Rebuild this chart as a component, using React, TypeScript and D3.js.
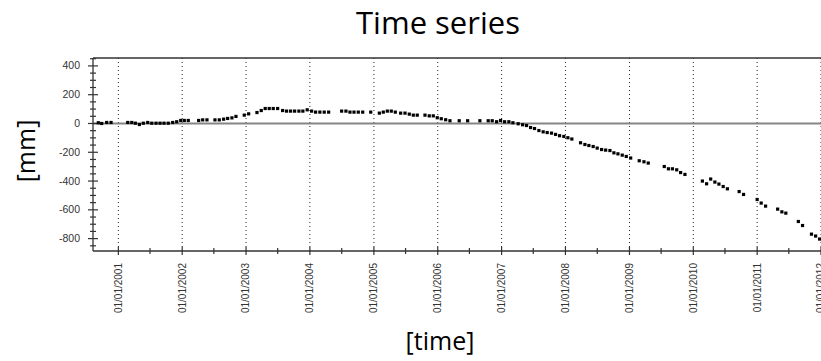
import React from "react";
import * as d3 from "d3";

const years = [
  2000.687, 2000.740, 2000.818, 2000.886,
  2001.147, 2001.210, 2001.266, 2001.329, 2001.391, 2001.460, 2001.523, 2001.590,
  2001.653, 2001.715, 2001.782, 2001.851, 2001.914, 2001.977, 2002.033, 2002.095,
  2002.258, 2002.321, 2002.388, 2002.513, 2002.581, 2002.649, 2002.712, 2002.779,
  2002.842, 2002.972, 2003.041, 2003.171, 2003.238, 2003.300, 2003.363, 2003.426,
  2003.495, 2003.573, 2003.635, 2003.698, 2003.761, 2003.828, 2003.890, 2003.958,
  2004.027, 2004.089, 2004.156, 2004.224, 2004.293,
  2004.496, 2004.563, 2004.626, 2004.689, 2004.756, 2004.825,
  2004.950, 2005.085, 2005.147, 2005.210, 2005.272, 2005.335, 2005.419, 2005.487,
  2005.554, 2005.617, 2005.679,
  2005.800, 2005.867, 2005.930, 2005.992, 2006.055, 2006.124, 2006.191,
  2006.336, 2006.468, 2006.660, 2006.790, 2006.853, 2006.922, 2006.984, 2007.047,
  2007.114, 2007.177, 2007.260, 2007.329, 2007.391, 2007.454, 2007.516, 2007.584,
  2007.651, 2007.714, 2007.782, 2007.845, 2007.908, 2007.975, 2008.038, 2008.100,
  2008.236, 2008.304, 2008.366, 2008.433, 2008.496, 2008.565, 2008.628, 2008.695,
  2008.757, 2008.820, 2008.887, 2008.950, 2009.019,
  2009.153, 2009.227, 2009.294,
  2009.545, 2009.610, 2009.673, 2009.740, 2009.801, 2009.869,
  2010.142, 2010.208, 2010.272, 2010.338, 2010.401, 2010.468, 2010.534,
  2010.718, 2010.787,
  2011.000, 2011.063, 2011.132,
  2011.321, 2011.387, 2011.449,
  2011.645, 2011.711,
  2011.851, 2011.916, 2011.978,
];

// displacement in mm
const values = [
  5, 0, 7, 7,
  7, 7, 2, -7, 2, 7, 2, 2,
  2, 2, 2, 7, 12, 21, 21, 21,
  21, 25, 25, 25, 25, 30, 35, 39,
  49, 58, 67, 76, 90, 104, 104, 104,
  104, 90, 86, 86, 86, 86, 86, 95,
  86, 79, 79, 79, 79,
  86, 86, 79, 79, 79, 79,
  79, 72, 79, 86, 86, 79, 72, 72,
  65, 58, 58,
  58, 53, 53, 40, 33, 26, 19,
  19, 19, 19, 19, 19, 12, 21, 12,
  12, 5, -2, -9, -14, -28, -35, -49,
  -58, -63, -67, -76, -85, -90, -99, -108,
  -134, -146, -153, -160, -171, -181, -185, -188,
  -204, -211, -220, -229, -240,
  -259, -266, -275,
  -299, -315, -315, -322, -341, -354,
  -400, -419, -386, -407, -421, -438, -454,
  -473, -493,
  -528, -553, -574,
  -595, -614, -623,
  -681, -709,
  -769, -782, -803,
];

const yTickValues = [400, 200, 0, -200, -400, -600, -800];

const width = 821;
const height = 361;
const margin = { top: 58, right: 0, bottom: 110, left: 93 };

const toDate = (y: number) => {
  const yr = Math.floor(y);
  const a = new Date(yr, 0, 1).getTime();
  const b = new Date(yr + 1, 0, 1).getTime();
  return new Date(a + (y - yr) * (b - a));
};

const x = d3.scaleTime()
  .domain([toDate(2000.604), new Date(2012, 0, 1)])
  .range([margin.left, width - margin.right]);

const y = d3.scaleLinear()
  .domain([-886, 455])
  .range([height - margin.bottom, margin.top]);

const fmt = d3.timeFormat("%d/%m/%Y");

export default function App() {
  const [x0, x1] = x.range();
  const [yb, yt] = y.range();
  const majorX = x.ticks(d3.timeYear.every(1)!);
  const minorX = d3.timeMonth.range(x.domain()[0], d3.timeMonth.offset(x.domain()[1], 1))
    .filter((d) => d.getMonth() === 6);
  const minorY = d3.range(-850, 451, 50).filter((v) => v % 200 !== 0);
  const pts = years.map((t, i) => ({ t: toDate(t), v: values[i] }));

  return (
    <svg width={width} height={height} style={{ position: "absolute", left: 0, top: 0, background: "#fff" }}>
      <text x={438} y={34} textAnchor="middle" fontFamily="'Open Sans', sans-serif" fontSize={31} fill="#000">
        Time series
      </text>

      {/* vertical dotted year gridlines */}
      {majorX.map((d) => (
        <line key={"g" + +d} x1={x(d)} x2={x(d)} y1={yt} y2={yb} stroke="#222" strokeWidth={1} strokeDasharray="1,3" />
      ))}

      {/* zero line */}
      <line x1={x0} x2={x1} y1={y(0)} y2={y(0)} stroke="#858585" strokeWidth={2} />

      {/* frame */}
      <line x1={x0} x2={x1} y1={yt} y2={yt} stroke="#333" strokeWidth={1.3} />
      <line x1={x0} x2={x1} y1={yb} y2={yb} stroke="#333" strokeWidth={1.3} />
      <line x1={x0} x2={x0} y1={yt} y2={yb} stroke="#333" strokeWidth={1.3} />

      {/* y ticks */}
      {yTickValues.map((v) => (
        <g key={"y" + v}>
          <line x1={x0 - 5} x2={x0 + 5} y1={y(v)} y2={y(v)} stroke="#333" strokeWidth={1.2} />
          <text x={x0 - 13} y={y(v)} dy="0.34em" textAnchor="end" fontFamily="'Liberation Sans', Arial, sans-serif" fontSize={10.5} fill="#333">
            {v}
          </text>
        </g>
      ))}
      {minorY.map((v) => (
        <line key={"my" + v} x1={x0 - 3} x2={x0 + 3} y1={y(v)} y2={y(v)} stroke="#333" strokeWidth={1.2} />
      ))}

      {/* x ticks */}
      {majorX.map((d) => (
        <g key={"x" + +d}>
          <line x1={x(d)} x2={x(d)} y1={yb - 4} y2={yb + 4} stroke="#333" strokeWidth={1.2} />
          <text
            transform={`translate(${x(d)},${yb + 12}) rotate(-90)`}
            dy="0.34em"
            textAnchor="end"
            fontFamily="'Liberation Sans', Arial, sans-serif"
            fontSize={10}
            fill="#333"
          >
            {fmt(d)}
          </text>
        </g>
      ))}
      {minorX.map((d) => (
        <line key={"mx" + +d} x1={x(d)} x2={x(d)} y1={yb - 3} y2={yb + 3} stroke="#333" strokeWidth={1.2} />
      ))}

      {/* points */}
      {pts.map((p, i) => (
        <rect key={i} x={x(p.t) - 1.6} y={y(p.v) - 1.6} width={3.2} height={3.2} fill="#000" />
      ))}

      <text
        transform="translate(26,151) rotate(-90)"
        dy="0.35em"
        textAnchor="middle"
        fontFamily="'Open Sans', sans-serif"
        fontSize={25}
        fill="#000"
      >
        [mm]
      </text>
      <text x={440} y={350} textAnchor="middle" fontFamily="'Open Sans', sans-serif" fontSize={25} fill="#000">
        [time]
      </text>
    </svg>
  );
}
